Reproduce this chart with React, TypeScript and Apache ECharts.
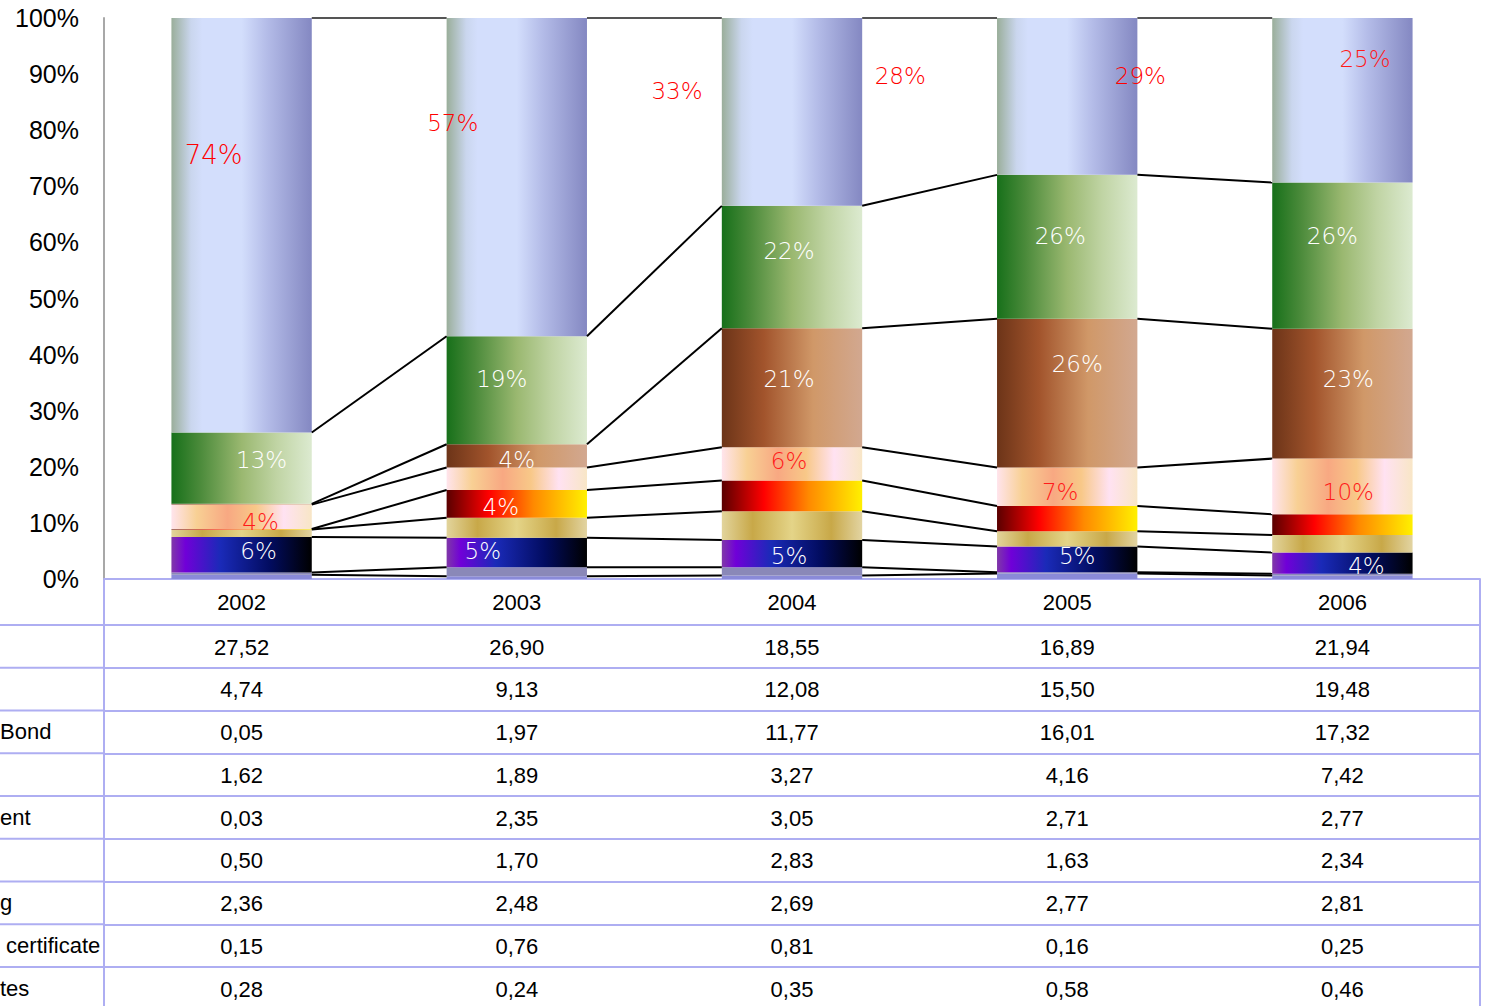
import React, { useEffect, useRef } from "react";
import * as echarts from "echarts";

// ---------- data ----------
const years = ["2002", "2003", "2004", "2005", "2006"];
// table rows, top to bottom (stack order is bottom = last row)
const row1 = [27.52, 26.9, 18.55, 16.89, 21.94];
const row2 = [4.74, 9.13, 12.08, 15.5, 19.48];
const row3 = [0.05, 1.97, 11.77, 16.01, 17.32];
const row4 = [1.62, 1.89, 3.27, 4.16, 7.42];
const row5 = [0.03, 2.35, 3.05, 2.71, 2.77];
const row6 = [0.5, 1.7, 2.83, 1.63, 2.34];
const row7 = [2.36, 2.48, 2.69, 2.77, 2.81];
const row8 = [0.15, 0.76, 0.81, 0.16, 0.25];
const row9 = [0.28, 0.24, 0.35, 0.58, 0.46];
const rows = [row1, row2, row3, row4, row5, row6, row7, row8, row9];
// visible (cropped) parts of the row names
const rowNames = ["", "", "Bond", "", "ent", "", "g", " certificate", "tes"];
// data labels as printed in the picture, per row
const labels1 = ["74%", "57%", "33%", "28%", "29%"];
const labels2 = ["13%", "19%", "22%", "26%", "26%"];
const labels3 = ["", "4%", "21%", "26%", "23%"];
const labels4 = ["4%", "", "6%", "7%", "10%"];
const labels5 = ["", "4%", "", "", ""];
const labels6 = ["", "", "", "", ""];
const labels7 = ["6%", "5%", "5%", "5%", "4%"];
const labels8 = ["", "", "", "", ""];
const labels9 = ["", "", "", "", ""];
const rowLabels = [labels1, labels2, labels3, labels4, labels5, labels6, labels7, labels8, labels9];
const strayLabel = "25%";
const yTicks = { min: 0, max: 100, interval: 10 };

// ---------- layout / style ----------
const W = 1485;
const H = 1006;
const GRID = { left: 104, right: 5, top: 18, bottom: 427 };
const AXIS_Y = H - GRID.bottom; // 579
const FIRST_ROW_H = 46;
const ROW_H = 42.75;
const TABLE_LINE = "#aeaef2";
const TEXT_FONT = "'Liberation Sans', Arial, sans-serif";
const LABEL_FONT = "'DejaVu Sans', sans-serif";

const labelOffsets: number[][][] = [
  [[-28, -70], [-64, -54], [-115, -21], [-167, -20], [-202, -24]],
  [[20, -8], [-15, -11], [-3, -16], [-7, -11], [-10, -20]],
  [[0, 0], [0, 4], [-3, -9], [10, -29], [6, -15]],
  [[19, 5], [0, 0], [-3, -3], [-7, 5], [6, 6]],
  [[0, 0], [-16, 3], [0, 0], [0, 0], [0, 0]],
  [[0, 0], [0, 0], [0, 0], [0, 0], [0, 0]],
  [[17, -4], [-34, -1], [-3, 2], [10, -3], [24, 3]],
  [[0, 0], [0, 0], [0, 0], [0, 0], [0, 0]],
  [[0, 0], [0, 0], [0, 0], [0, 0], [0, 0]],
];
const labelColors = ["#ff0000", "#ffffff", "#ffffff", "#ff1a1a", "#ffffff", "#ffffff", "#ffffff", "#ffffff", "#ffffff"];

const grad = (stops: [number, string][]) => ({
  type: "linear",
  x: 0,
  y: 0,
  x2: 1,
  y2: 0,
  colorStops: stops.map(([offset, color]) => ({ offset, color })),
});

const rowFills = [
  grad([[0, "#9aae9a"], [0.14, "#cad6ee"], [0.22, "#d3defc"], [0.5, "#d3defc"], [0.68, "#b4bce8"], [1, "#8488c2"]]),
  grad([[0, "#17701a"], [0.2, "#4a8a3a"], [0.5, "#9ab870"], [0.75, "#c0d4a4"], [1, "#dcead0"]]),
  grad([[0, "#6c3418"], [0.3, "#a2542c"], [0.65, "#d09868"], [1, "#d2a890"]]),
  grad([[0, "#ffe4ec"], [0.18, "#f8d094"], [0.4, "#f8a882"], [0.6, "#f8c888"], [0.8, "#ffe2f2"], [1, "#f8e6c6"]]),
  grad([[0, "#5a0000"], [0.3, "#ff0000"], [0.62, "#ff8a00"], [1, "#fff000"]]),
  grad([[0, "#e2d49c"], [0.22, "#c8a848"], [0.5, "#e4d488"], [0.78, "#c8a848"], [1, "#e2d4a2"]]),
  grad([[0, "#8038a8"], [0.1, "#7000d8"], [0.35, "#1a2ab8"], [0.7, "#020c60"], [1, "#000000"]]),
  "#8a88b8",
  "#8a8ad8",
];

function buildOption() {
  const totals = years.map((_, i) => rows.reduce((s, r) => s + r[i], 0));
  const pct = rows.map((r) => r.map((v, i) => (v / totals[i]) * 100));

  // stack order: bottom is last row
  const order = rows.map((_, k) => rows.length - 1 - k);
  const cum: number[][] = [];
  const running = years.map(() => 0);
  order.forEach((k) => {
    pct[k].forEach((v, i) => (running[i] += v));
    cum[k] = running.slice();
  });

  const barSeries = order.map((k) => ({
    type: "bar",
    name: "row" + (k + 1),
    stack: "total",
    barWidth: "51%",
    itemStyle: { color: rowFills[k] },
    data: pct[k].map((v, i) => {
      const text = rowLabels[k][i];
      return {
        value: v,
        label: text
          ? {
              show: true,
              position: "inside",
              formatter: text,
              offset: labelOffsets[k][i],
              color: labelColors[k],
              fontSize: k === 0 && i === 0 ? 26 : 23,
              fontFamily: LABEL_FONT,
              fontWeight: 200,
            }
          : { show: false },
      };
    }),
  }));

  const lineData: number[][] = [];
  rows.forEach((_, k) => {
    for (let i = 0; i < years.length - 1; i++) {
      lineData.push([i, Math.min(cum[k][i], 100), Math.min(cum[k][i + 1], 100), k]);
    }
  });

  const seriesLines = {
    type: "custom",
    silent: true,
    clip: false,
    z: 5,
    encode: { x: 0, y: 1 },
    data: lineData,
    renderItem: (params: any, api: any) => {
      const i = api.value(0);
      const p1 = api.coord([i, api.value(1)]);
      const p2 = api.coord([i + 1, api.value(2)]);
      const half = (api.size([1, 0])[0] * 0.51) / 2;
      const top = api.value(3) === 0;
      return {
        type: "line",
        shape: { x1: p1[0] + half, y1: p1[1], x2: p2[0] - half, y2: p2[1] },
        style: { stroke: top ? "#555555" : "#000000", lineWidth: 2 },
      };
    },
  };

  const axisCommon = (data: string[], offset: number, margin: number) => ({
    type: "category",
    data,
    gridIndex: 0,
    position: "bottom",
    offset,
    axisLine: { show: true, onZero: false, lineStyle: { color: TABLE_LINE, width: 2 } },
    axisTick: { show: false },
    splitLine: { show: false },
    axisLabel: { interval: 0, fontSize: 22, color: "#000", margin, fontFamily: TEXT_FONT },
  });

  const fmt = (v: number) => v.toFixed(2).replace(".", ",");
  const xAxes = [axisCommon(years, 0, 12)];
  rows.forEach((r, k) => {
    xAxes.push(axisCommon(r.map(fmt), FIRST_ROW_H + k * ROW_H, 11));
  });

  const graphics: any[] = [];
  rows.forEach((_, k) => {
    const y = AXIS_Y + FIRST_ROW_H + k * ROW_H;
    graphics.push({
      type: "line",
      silent: true,
      shape: { x1: 0, y1: y, x2: GRID.left, y2: y },
      style: { stroke: TABLE_LINE, lineWidth: 2 },
    });
    if (rowNames[k]) {
      graphics.push({
        type: "text",
        silent: true,
        x: 0,
        y: y + ROW_H / 2,
        style: {
          text: rowNames[k],
          fontSize: 22,
          fontFamily: TEXT_FONT,
          fill: "#000",
          align: "left",
          verticalAlign: "middle",
        },
      });
    }
  });
  graphics.push({
    type: "line",
    silent: true,
    shape: { x1: GRID.left, y1: AXIS_Y, x2: GRID.left, y2: H },
    style: { stroke: TABLE_LINE, lineWidth: 2 },
  });
  graphics.push({
    type: "line",
    silent: true,
    shape: { x1: W - GRID.right, y1: AXIS_Y, x2: W - GRID.right, y2: H },
    style: { stroke: TABLE_LINE, lineWidth: 2 },
  });
  graphics.push({
    type: "text",
    silent: true,
    z: 100,
    zlevel: 0,
    x: 1365,
    y: 59,
    style: {
      text: strayLabel,
      fontSize: 23,
      fontFamily: LABEL_FONT,
      fontWeight: 200,
      fill: "#ff1a1a",
      align: "center",
      verticalAlign: "middle",
    },
  });

  return {
    animation: false,
    backgroundColor: "#ffffff",
    grid: { ...GRID, containLabel: false, outerBoundsMode: "none" },
    xAxis: xAxes,
    yAxis: {
      type: "value",
      min: yTicks.min,
      max: yTicks.max,
      interval: yTicks.interval,
      axisLine: { show: true, lineStyle: { color: "#a8a8a8", width: 2 } },
      axisTick: { show: false },
      splitLine: { show: false },
      axisLabel: { formatter: "{value}%", fontSize: 25, color: "#000", margin: 25, fontFamily: TEXT_FONT },
    },
    series: [...barSeries, seriesLines],
    graphic: { elements: graphics },
  };
}

export default function App() {
  const ref = useRef<HTMLDivElement>(null);
  useEffect(() => {
    document.body.style.margin = "0";
    if (!ref.current) return;
    const chart = echarts.init(ref.current, null, { renderer: "svg" });
    chart.setOption(buildOption() as any);
    return () => chart.dispose();
  }, []);
  return <div ref={ref} style={{ width: W, height: H }} />;
}
